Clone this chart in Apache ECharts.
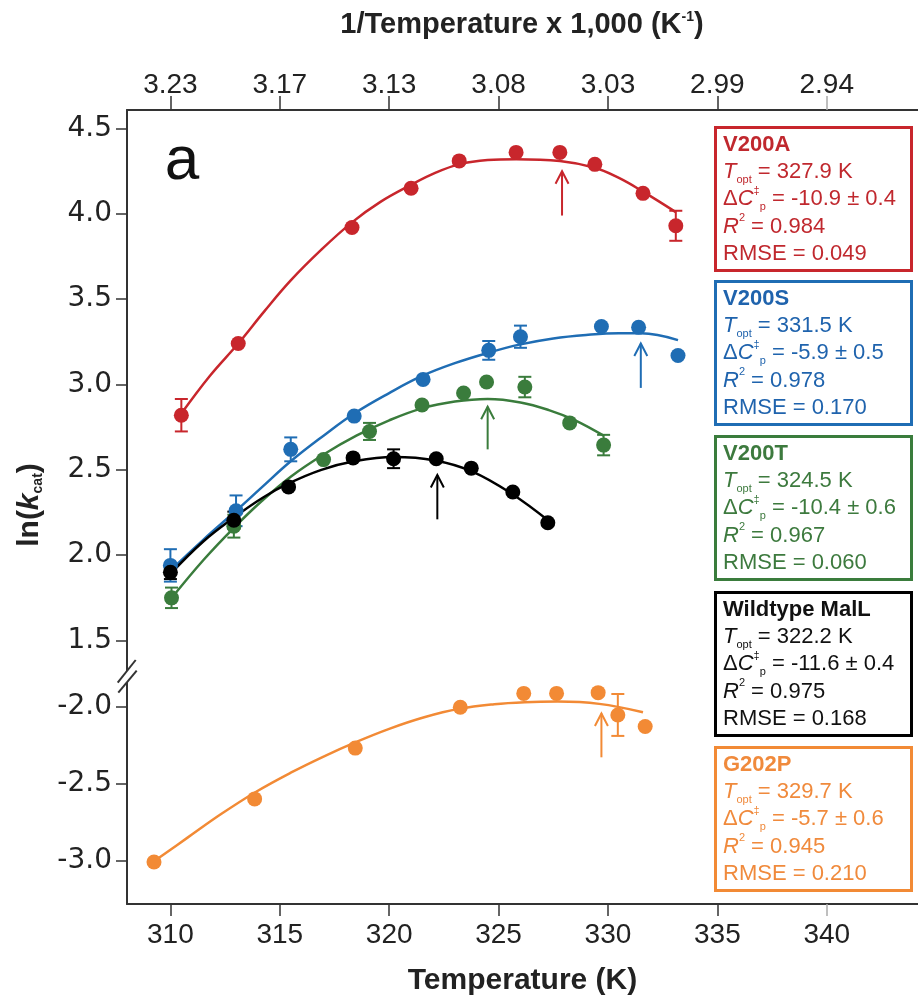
<!DOCTYPE html>
<html><head><meta charset="utf-8">
<script src="https://cdn.jsdelivr.net/npm/echarts@6/dist/echarts.min.js"></script>
<style>html,body{margin:0;padding:0;background:#fff}#c{width:918px;height:1002px}</style>
</head><body><div id="c"></div>
<script>
// ---------- axis ticks / labels ----------
const xTicks = [310, 315, 320, 325, 330, 335, 340];
const topTickLabels = ['3.23', '3.17', '3.13', '3.08', '3.03', '2.99', '2.94'];
const upperYTicks = [1.5, 2.0, 2.5, 3.0, 3.5, 4.0, 4.5];
const lowerYTicks = [-3.0, -2.5, -2.0];

// ---------- V200A (red) ----------
const redT   = [310.5, 313.1, 318.3, 321.0, 323.2, 325.8, 327.8, 329.4, 331.6, 333.1];
const redY   = [2.82, 3.24, 3.92, 4.15, 4.31, 4.36, 4.36, 4.29, 4.12, 3.93];
const redErr = [0.095, 0, 0, 0, 0, 0, 0, 0, 0, 0.088];
const redFitT = [310.5, 311.8, 313.1, 314.3, 315.5, 316.9, 318.3, 319.6, 321.0, 322.1, 323.2, 324.5, 325.8, 327.8, 329.4, 330.5, 331.6, 333.1];
const redFitY = [2.83, 3.05, 3.24, 3.43, 3.61, 3.79, 3.95, 4.07, 4.17, 4.24, 4.29, 4.315, 4.32, 4.31, 4.27, 4.21, 4.13, 4.01];

// ---------- V200S (blue) ----------
const blueT   = [310.0, 313.0, 315.5, 318.4, 321.55, 324.55, 326.0, 329.7, 331.4, 333.2];
const blueY   = [1.94, 2.26, 2.62, 2.815, 3.03, 3.20, 3.28, 3.34, 3.335, 3.17];
const blueErr = [0.095, 0.09, 0.07, 0, 0, 0.055, 0.065, 0, 0, 0];
const blueFitT = [310.0, 311.5, 313.0, 314.2, 315.5, 317.0, 318.4, 320.0, 321.5, 323.0, 324.5, 326.0, 327.5, 329.0, 330.5, 331.5, 333.2];
const blueFitY = [1.91, 2.09, 2.26, 2.40, 2.55, 2.70, 2.83, 2.95, 3.05, 3.125, 3.185, 3.235, 3.27, 3.29, 3.30, 3.30, 3.26];

// ---------- V200T (green) ----------
const greenT   = [310.05, 312.9, 317.0, 319.1, 321.5, 323.4, 324.45, 326.2, 328.25, 329.8];
const greenY   = [1.75, 2.17, 2.56, 2.725, 2.88, 2.95, 3.015, 2.985, 2.775, 2.645];
const greenErr = [0.06, 0.067, 0, 0.05, 0, 0, 0, 0.06, 0, 0.06];
const greenFitT = [310.0, 311.5, 312.9, 314.2, 315.5, 317.0, 318.5, 320.0, 321.5, 323.0, 324.5, 326.0, 327.3, 328.5, 329.8];
const greenFitY = [1.74, 1.97, 2.16, 2.32, 2.46, 2.59, 2.70, 2.79, 2.86, 2.90, 2.915, 2.895, 2.85, 2.79, 2.70];

// ---------- Wildtype MalL (black) ----------
const blackT   = [310.0, 312.9, 315.4, 318.35, 320.2, 322.15, 323.75, 325.65, 327.25];
const blackY   = [1.90, 2.205, 2.40, 2.57, 2.565, 2.565, 2.51, 2.37, 2.19];
const blackErr = [0.04, 0.05, 0, 0, 0.055, 0, 0, 0, 0];
const blackFitT = [310.0, 311.5, 312.9, 314.2, 315.4, 316.9, 318.4, 320.2, 322.1, 323.8, 325.6, 327.3];
const blackFitY = [1.89, 2.08, 2.22, 2.335, 2.42, 2.50, 2.55, 2.575, 2.555, 2.49, 2.36, 2.20];

// ---------- G202P (orange) ----------
const orangeT   = [309.25, 313.85, 318.45, 323.25, 326.15, 327.65, 329.55, 330.45, 331.7];
const orangeY   = [-3.01, -2.60, -2.27, -2.005, -1.915, -1.915, -1.91, -2.055, -2.13];
const orangeErr = [0, 0, 0, 0, 0, 0, 0, 0.136, 0];
const orangeFitT = [309.3, 310.8, 312.3, 313.9, 315.5, 317.0, 318.5, 320.0, 321.6, 323.2, 324.8, 326.2, 327.7, 329.6, 331.6];
const orangeFitY = [-3.00, -2.85, -2.70, -2.555, -2.43, -2.325, -2.23, -2.145, -2.07, -2.015, -1.985, -1.972, -1.968, -1.983, -2.037];

// ---------- Topt arrows & legend texts ----------
const names     = ['V200A', 'V200S', 'V200T', 'Wildtype MalL', 'G202P'];
const toptVals  = [327.9, 331.5, 324.5, 322.2, 329.7];
const arrowBase = [3.99, 2.98, 2.62, 2.21, -2.33];
const arrowTip  = [4.25, 3.24, 2.87, 2.47, -2.045];
const dcpText   = ['-10.9 ± 0.4', '-5.9 ± 0.5', '-10.4 ± 0.6', '-11.6 ± 0.4', '-5.7 ± 0.6'];
const r2Text    = ['0.984', '0.978', '0.967', '0.975', '0.945'];
const rmseText  = ['0.049', '0.170', '0.060', '0.168', '0.210'];

const colors = ['#c8262c', '#1f6db4', '#3a7c3c', '#000000', '#f28a35'];
const textColors = ['#c0282e', '#1f63ad', '#3d7a3e', '#111111', '#f08a3c'];

const FONT = 'Liberation Sans, Arial, Helvetica, sans-serif';
const YFONT = 'DejaVu Sans, Liberation Sans, sans-serif';
const AX = '#333333';

const groups = [
  {T: redT, Y: redY, E: redErr, fT: redFitT, fY: redFitY, g: 0},
  {T: blueT, Y: blueY, E: blueErr, fT: blueFitT, fY: blueFitY, g: 0},
  {T: greenT, Y: greenY, E: greenErr, fT: greenFitT, fY: greenFitY, g: 0},
  {T: blackT, Y: blackY, E: blackErr, fT: blackFitT, fY: blackFitY, g: 0},
  {T: orangeT, Y: orangeY, E: orangeErr, fT: orangeFitT, fY: orangeFitY, g: 1}
];

const X_MIN = 308.016, X_MAX = 344.17;

function errItem(color) {
  return function (params, api) {
    const x = api.value(0), y = api.value(1), e = api.value(2);
    const lo = api.coord([x, y - e]), hi = api.coord([x, y + e]);
    const w = 6.5;
    const st = {stroke: color, lineWidth: 2, fill: null};
    return {type: 'group', children: [
      {type: 'line', shape: {x1: lo[0], y1: lo[1], x2: hi[0], y2: hi[1]}, style: st},
      {type: 'line', shape: {x1: lo[0] - w, y1: lo[1], x2: lo[0] + w, y2: lo[1]}, style: st},
      {type: 'line', shape: {x1: hi[0] - w, y1: hi[1], x2: hi[0] + w, y2: hi[1]}, style: st}
    ]};
  };
}
function arrowItem(color) {
  return function (params, api) {
    const x = api.value(0);
    const b = api.coord([x, api.value(1)]), t = api.coord([x, api.value(2)]);
    const st = {stroke: color, lineWidth: 2, fill: null};
    return {type: 'group', children: [
      {type: 'line', shape: {x1: b[0], y1: b[1], x2: t[0], y2: t[1]}, style: st},
      {type: 'polyline', shape: {points: [[t[0] - 6.5, t[1] + 12.5], [t[0], t[1]], [t[0] + 6.5, t[1] + 12.5]]}, style: st}
    ]};
  };
}

const series = [];
groups.forEach((gr, i) => {
  const ax = {xAxisIndex: gr.g === 0 ? 0 : 1, yAxisIndex: gr.g};
  series.push(Object.assign({
    type: 'line', data: gr.fT.map((t, k) => [t, gr.fY[k]]), smooth: 0.4,
    showSymbol: false, symbol: 'none', lineStyle: {color: colors[i], width: 2.5}, z: 2, silent: true
  }, ax));
  series.push(Object.assign({
    type: 'custom', renderItem: errItem(colors[i]),
    data: gr.T.map((t, k) => [t, gr.Y[k], gr.E[k]]).filter(d => d[2] > 0), z: 3, silent: true
  }, ax));
  series.push(Object.assign({
    type: 'scatter', data: gr.T.map((t, k) => [t, gr.Y[k]]), symbol: 'circle', symbolSize: 15,
    itemStyle: {color: colors[i], opacity: 1}, z: 4, silent: true
  }, ax));
  series.push(Object.assign({
    type: 'custom', renderItem: arrowItem(colors[i]),
    data: [[toptVals[i], arrowBase[i], arrowTip[i]]], z: 3, silent: true
  }, ax));
});

// legend boxes
const boxTops = [126, 280, 435, 591, 746];
const graphics = [];
names.forEach((n, i) => {
  graphics.push({
    type: 'rect', z: 100,
    shape: {x: 715.5, y: boxTops[i] + 1.5, width: 196, height: 143},
    style: {fill: '#fff', stroke: colors[i], lineWidth: 3}
  });
  graphics.push({
    type: 'text', z: 101, x: 723, y: boxTops[i] + 5,
    style: {
      text: '{b|' + n + '}\n{i|T}{s|opt} = ' + toptVals[i].toFixed(1) + ' K\nΔ{i|C}{u|‡}{s|p} = ' + dcpText[i] +
            '\n{i|R}{u|2} = ' + r2Text[i] + '\nRMSE = ' + rmseText[i],
      fill: textColors[i], font: '22px ' + FONT, lineHeight: 27.3, verticalAlign: 'top', align: 'left',
      rich: {
        b: {fontWeight: 'bold', fontSize: 22, fontFamily: FONT, lineHeight: 27.3},
        i: {fontStyle: 'italic', fontSize: 22, fontFamily: FONT, lineHeight: 27.3},
        s: {fontSize: 11, fontFamily: FONT, verticalAlign: 'bottom', lineHeight: 13},
        u: {fontSize: 11, fontFamily: FONT, verticalAlign: 'top', lineHeight: 13}
      }
    }
  });
});
// panel letter
graphics.push({type: 'text', z: 100, x: 182, y: 162,
  style: {text: 'a', font: '62px ' + FONT, fill: '#111', align: 'center', verticalAlign: 'middle'}});
// y axis title
graphics.push({type: 'text', z: 100, x: 30, y: 505, rotation: Math.PI / 2,
  style: {text: 'ln({k|k}{c|cat})', font: 'bold 30px ' + FONT, fill: '#222', align: 'center', verticalAlign: 'middle',
    rich: {k: {fontStyle: 'italic', fontWeight: 'bold', fontSize: 30, fontFamily: FONT},
           c: {fontSize: 14, fontWeight: 'bold', fontFamily: FONT, verticalAlign: 'bottom', lineHeight: 14}}}});
// top title
graphics.push({type: 'text', z: 100, x: 522, y: 25,
  style: {text: '1/Temperature x 1,000 (K{u|-1})', font: 'bold 29px ' + FONT, fill: '#222', align: 'center', verticalAlign: 'middle',
    rich: {u: {fontSize: 14, fontWeight: 'bold', fontFamily: FONT, verticalAlign: 'top', lineHeight: 16}}}});
// axis break marks
graphics.push({type: 'polygon', z: 100,
  shape: {points: [[117.7, 682.7], [135.7, 660], [136.7, 670.7], [118.3, 692.7]]}, style: {fill: '#fff'}});
graphics.push({type: 'line', z: 101, shape: {x1: 117.7, y1: 682.7, x2: 135.7, y2: 660}, style: {stroke: AX, lineWidth: 2}});
graphics.push({type: 'line', z: 101, shape: {x1: 118.3, y1: 692.7, x2: 136.7, y2: 670.7}, style: {stroke: AX, lineWidth: 2}});

const tickLabelStyle = {fontFamily: FONT, fontSize: 28, color: '#222'};
const yLabelStyle = {fontFamily: YFONT, fontSize: 28, color: '#222'};

const option = {
  animation: false,
  backgroundColor: '#fff',
  grid: [
    {left: 127, top: 110, width: 791, height: 564, outerBoundsMode: 'none', containLabel: false},
    {left: 127, top: 674, width: 791, height: 230, outerBoundsMode: 'none', containLabel: false}
  ],
  xAxis: [
    {gridIndex: 0, type: 'value', position: 'top', min: X_MIN, max: X_MAX,
     axisLine: {show: true, onZero: false, lineStyle: {color: AX, width: 2}},
     axisTick: {show: true, inside: false, length: 14, customValues: xTicks.slice(0, 6), lineStyle: {color: AX, width: 1.5}},
     axisLabel: Object.assign({show: true, margin: 11, customValues: xTicks,
       formatter: v => topTickLabels[xTicks.indexOf(v)]}, tickLabelStyle),
     splitLine: {show: false}},
    {gridIndex: 1, type: 'value', position: 'bottom', min: X_MIN, max: X_MAX,
     name: 'Temperature (K)', nameLocation: 'middle', nameGap: 62,
     nameTextStyle: {fontFamily: FONT, fontSize: 30, fontWeight: 'bold', color: '#222'},
     axisLine: {show: true, onZero: false, lineStyle: {color: AX, width: 2}},
     axisTick: {show: true, inside: false, length: 12, customValues: xTicks.slice(0, 6), lineStyle: {color: AX, width: 1.5}},
     axisLabel: Object.assign({show: true, margin: 17, customValues: xTicks,
       formatter: v => String(v)}, tickLabelStyle),
     splitLine: {show: false}},
    {gridIndex: 0, type: 'value', position: 'top', min: X_MIN, max: X_MAX,
     axisLine: {show: false}, axisLabel: {show: false}, splitLine: {show: false},
     axisTick: {show: true, length: 14, customValues: [xTicks[6]], lineStyle: {color: '#aaaaaa', width: 1.5}}},
    {gridIndex: 1, type: 'value', position: 'bottom', min: X_MIN, max: X_MAX,
     axisLine: {show: false}, axisLabel: {show: false}, splitLine: {show: false},
     axisTick: {show: true, length: 12, customValues: [xTicks[6]], lineStyle: {color: '#aaaaaa', width: 1.5}}}
  ],
  yAxis: [
    {gridIndex: 0, type: 'value', min: 1.3037, max: 4.6084,
     axisLine: {show: true, onZero: false, lineStyle: {color: AX, width: 2}},
     axisTick: {show: true, length: 11, customValues: upperYTicks, lineStyle: {color: AX, width: 1.5}},
     axisLabel: Object.assign({margin: 15, customValues: upperYTicks, formatter: v => v.toFixed(1)}, yLabelStyle),
     splitLine: {show: false}},
    {gridIndex: 1, type: 'value', min: -3.2825, max: -1.789,
     axisLine: {show: true, onZero: false, lineStyle: {color: AX, width: 2}},
     axisTick: {show: true, length: 11, customValues: lowerYTicks, lineStyle: {color: AX, width: 1.5}},
     axisLabel: Object.assign({margin: 15, customValues: lowerYTicks, formatter: v => v.toFixed(1)}, yLabelStyle),
     splitLine: {show: false}}
  ],
  series: series,
  graphic: graphics
};

const chart = echarts.init(document.getElementById('c'), null, {renderer: 'canvas'});
chart.setOption(option);
</script></body></html>
